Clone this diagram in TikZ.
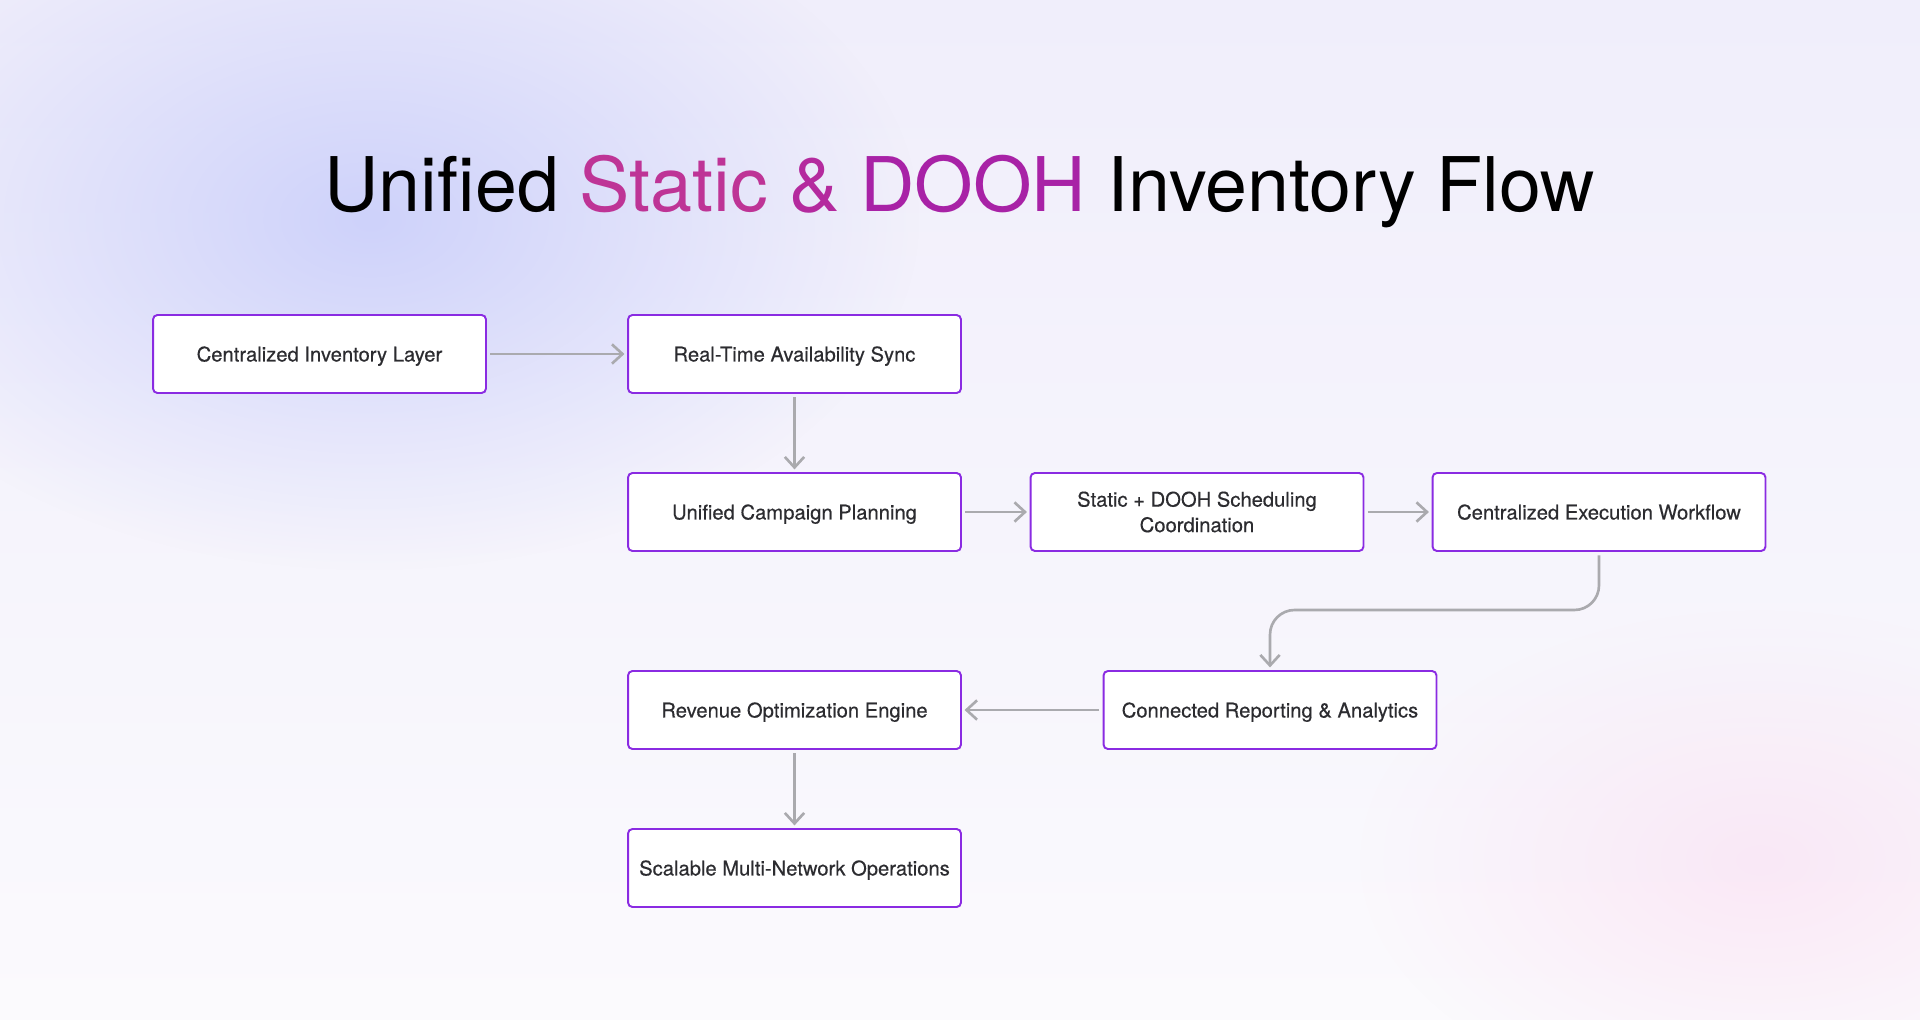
\documentclass[tikz,border=0pt]{standalone}
\usepackage{fontspec}
\setmainfont{TeX Gyre Heros}
\newfontface\stagefont{TeX Gyre Heros}[FakeBold=0.35]
\usetikzlibrary{arrows.meta,fadings}
\definecolor{boxline}{RGB}{138,43,226}
\definecolor{flowgray}{RGB}{170,170,174}
\definecolor{txtdark}{RGB}{44,44,48}
\definecolor{titlemagA}{RGB}{190,52,150}
\definecolor{titlemagB}{RGB}{180,42,158}
\definecolor{titlemagC}{RGB}{168,34,166}
\definecolor{bgtop}{RGB}{240,238,251}
\definecolor{bgbottom}{RGB}{251,250,253}
\definecolor{blobblue}{RGB}{206,210,250}
\definecolor{blobpink}{RGB}{250,232,246}
\tikzfading[name=softblob, inner color=transparent!0, outer color=transparent!100]

\begin{document}
\begin{tikzpicture}[x=0.02cm,y=-0.02cm,
  stagebox/.style={draw=boxline, line width=1.1pt, fill=white, rounded corners=2.5pt,
    minimum width=6.66cm, minimum height=1.56cm, align=center, text=txtdark,
    font=\stagefont\fontsize{11.5}{14.5}\selectfont, inner sep=2pt},
  stage/.style={stagebox, text height=0.85em, text depth=0pt},
  flow/.style={draw=flowgray, line width=1.5pt, -{Straight Barb[length=6pt,width=11pt]},
    shorten <=2pt, shorten >=1.5pt}]
% background
\useasboundingbox (0,0) rectangle (1920,1020);
\shade[top color=bgtop, bottom color=bgbottom] (0,0) rectangle (1920,1020);
\fill[blobblue, path fading=softblob] (370,220) ellipse [x radius=11cm, y radius=7cm];
\fill[blobpink, path fading=softblob] (1760,860) ellipse [x radius=8cm, y radius=5cm];

% title
\node[anchor=base, font=\fontsize{42.9}{50}\selectfont, text=black] (title) at (960,212)
  {Unified \textcolor{titlemagA}{Static} \textcolor{titlemagB}{\&} \textcolor{titlemagC}{DOOH} Inventory Flow};

% stages
\node[stage] (layer)   at (319.5,354) {Centralized Inventory Layer};
\node[stage] (sync)    at (794.5,354) {Real-Time Availability Sync};
\node[stage] (plan)    at (794.5,512) {Unified Campaign Planning};
\node[stagebox] (sched) at (1197,512) {Static + DOOH Scheduling\\Coordination};
\node[stage] (exec)    at (1599,512)  {Centralized Execution Workflow};
\node[stage] (report)  at (1270,710)  {Connected Reporting \& Analytics};
\node[stage] (revenue) at (794.5,710) {Revenue Optimization Engine};
\node[stage] (ops)     at (794.5,868) {Scalable Multi-Network Operations};

% connectors
\coordinate (bend) at (1430,610);
\draw[flow] (layer) -- (sync);
\draw[flow] (sync) -- (plan);
\draw[flow] (plan) -- (sched);
\draw[flow] (sched) -- (exec);
\draw[flow, rounded corners=14pt] (exec.south) |- (bend) -| (report.north);
\draw[flow] (report) -- (revenue);
\draw[flow] (revenue) -- (ops);
\end{tikzpicture}
\end{document}
